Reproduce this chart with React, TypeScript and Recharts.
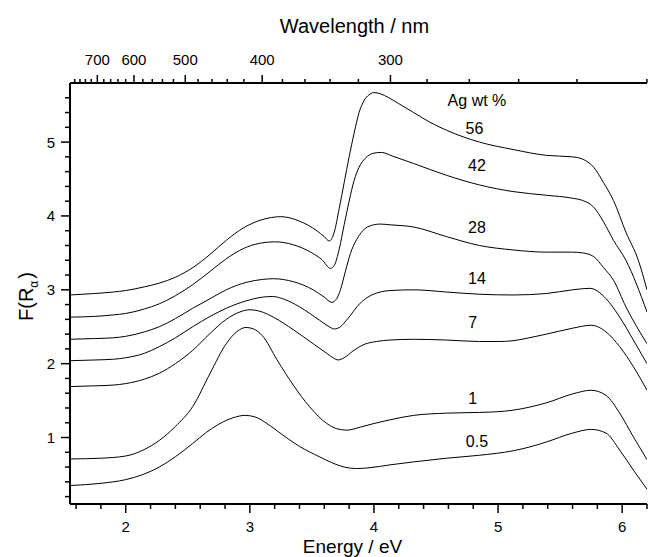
import { LineChart, Line, XAxis, YAxis, ReferenceDot } from 'recharts';

// Ejes: energía (abajo), longitud de onda (arriba), F(R) (izquierda)
const energyTicks = [1.6, 1.8, 2, 2.2, 2.4, 2.6, 2.8, 3, 3.2, 3.4, 3.6, 3.8, 4, 4.2, 4.4, 4.6, 4.8, 5, 5.2, 5.4, 5.6, 5.8, 6, 6.2];
const energyLabels = [2, 3, 4, 5, 6];
const fTicks = [0.2, 0.4, 0.6, 0.8, 1, 1.2, 1.4, 1.6, 1.8, 2, 2.2, 2.4, 2.6, 2.8, 3, 3.2, 3.4, 3.6, 3.8, 4, 4.2, 4.4, 4.6, 4.8, 5, 5.2, 5.4, 5.6];
const fLabels = [1, 2, 3, 4, 5];
const wavelengthTicks = [780, 760, 740, 720, 700, 680, 660, 640, 620, 600, 580, 560, 540, 520, 500, 480, 460, 440, 420, 400, 380, 360, 340, 320, 300, 280, 260, 240, 220, 200];
const wavelengthLabels = [700, 600, 500, 400, 300];

// Curvas [energía eV, F(R)] por contenido de Ag
const ag56 = [[1.55, 2.93], [1.75, 2.95], [1.9, 2.97], [2.0, 2.99], [2.15, 3.04], [2.27, 3.09], [2.4, 3.17], [2.54, 3.3], [2.68, 3.48], [2.81, 3.67], [2.95, 3.84], [3.1, 3.95], [3.25, 3.99], [3.4, 3.93], [3.54, 3.8], [3.6, 3.72], [3.64, 3.66], [3.68, 3.78], [3.72, 4.1], [3.76, 4.45], [3.8, 4.8], [3.84, 5.12], [3.88, 5.4], [3.92, 5.56], [3.96, 5.64], [4.0, 5.67], [4.05, 5.655], [4.12, 5.6], [4.2, 5.52], [4.32, 5.4], [4.45, 5.27], [4.585, 5.16], [4.85, 5.0], [5.12, 4.9], [5.39, 4.82], [5.6, 4.8], [5.68, 4.77], [5.77, 4.66], [5.85, 4.45], [5.93, 4.21], [6.03, 3.78], [6.13, 3.4], [6.2, 3.0]];
const ag42 = [[1.55, 2.63], [1.75, 2.64], [1.9, 2.66], [2.0, 2.68], [2.15, 2.74], [2.27, 2.81], [2.4, 2.92], [2.54, 3.07], [2.68, 3.25], [2.81, 3.42], [2.95, 3.56], [3.08, 3.63], [3.2, 3.65], [3.35, 3.61], [3.5, 3.5], [3.58, 3.41], [3.65, 3.29], [3.68, 3.33], [3.72, 3.55], [3.76, 3.88], [3.8, 4.2], [3.84, 4.48], [3.88, 4.66], [3.93, 4.78], [4.0, 4.85], [4.06, 4.86], [4.15, 4.81], [4.32, 4.71], [4.585, 4.55], [4.85, 4.42], [5.12, 4.33], [5.39, 4.28], [5.6, 4.24], [5.68, 4.21], [5.77, 4.12], [5.85, 3.92], [5.93, 3.67], [6.03, 3.4], [6.2, 2.7]];
const ag28 = [[1.55, 2.33], [1.75, 2.34], [1.9, 2.35], [2.0, 2.37], [2.15, 2.43], [2.27, 2.5], [2.4, 2.61], [2.54, 2.75], [2.68, 2.88], [2.81, 3.0], [2.97, 3.1], [3.1, 3.14], [3.19, 3.15], [3.35, 3.11], [3.51, 3.0], [3.6, 2.9], [3.66, 2.83], [3.7, 2.88], [3.73, 3.0], [3.77, 3.25], [3.81, 3.49], [3.86, 3.68], [3.91, 3.8], [3.96, 3.86], [4.05, 3.89], [4.13, 3.88], [4.32, 3.85], [4.585, 3.72], [4.85, 3.6], [5.12, 3.54], [5.39, 3.51], [5.6, 3.51], [5.68, 3.5], [5.77, 3.45], [5.85, 3.3], [5.93, 3.13], [6.03, 2.77], [6.2, 2.27]];
const ag14 = [[1.55, 2.04], [1.75, 2.05], [1.9, 2.06], [2.0, 2.08], [2.15, 2.14], [2.27, 2.23], [2.4, 2.35], [2.54, 2.5], [2.68, 2.64], [2.81, 2.75], [2.97, 2.85], [3.1, 2.9], [3.18, 2.91], [3.28, 2.87], [3.4, 2.77], [3.56, 2.59], [3.63, 2.51], [3.68, 2.47], [3.73, 2.5], [3.78, 2.59], [3.89, 2.82], [3.96, 2.91], [4.05, 2.97], [4.13, 2.99], [4.32, 3.0], [4.585, 2.97], [4.85, 2.94], [5.12, 2.93], [5.39, 2.95], [5.6, 3.0], [5.74, 3.02], [5.87, 2.88], [5.98, 2.63], [6.09, 2.32], [6.2, 2.0]];
const ag7 = [[1.55, 1.69], [1.75, 1.7], [1.9, 1.71], [2.0, 1.73], [2.15, 1.79], [2.27, 1.87], [2.4, 2.0], [2.54, 2.18], [2.68, 2.41], [2.81, 2.6], [2.92, 2.7], [3.0, 2.73], [3.08, 2.71], [3.2, 2.62], [3.35, 2.46], [3.51, 2.27], [3.62, 2.14], [3.68, 2.07], [3.71, 2.05], [3.76, 2.08], [3.83, 2.17], [3.92, 2.26], [4.02, 2.3], [4.13, 2.32], [4.32, 2.33], [4.585, 2.32], [4.85, 2.3], [5.0, 2.3], [5.12, 2.31], [5.25, 2.35], [5.39, 2.4], [5.6, 2.48], [5.75, 2.52], [5.87, 2.43], [5.98, 2.23], [6.09, 1.96], [6.2, 1.64]];
const ag1 = [[1.55, 0.71], [1.8, 0.72], [2.0, 0.75], [2.14, 0.83], [2.27, 0.96], [2.4, 1.15], [2.54, 1.42], [2.68, 1.87], [2.81, 2.27], [2.9, 2.44], [2.97, 2.49], [3.03, 2.47], [3.1, 2.38], [3.22, 2.05], [3.35, 1.71], [3.48, 1.42], [3.62, 1.19], [3.7, 1.12], [3.78, 1.1], [3.89, 1.14], [4.0, 1.19], [4.13, 1.24], [4.32, 1.3], [4.585, 1.33], [4.85, 1.34], [5.0, 1.35], [5.12, 1.37], [5.25, 1.41], [5.39, 1.47], [5.6, 1.59], [5.75, 1.64], [5.87, 1.57], [5.98, 1.33], [6.09, 1.01], [6.2, 0.7]];
const ag05 = [[1.55, 0.35], [1.8, 0.38], [2.0, 0.43], [2.14, 0.5], [2.27, 0.6], [2.4, 0.74], [2.54, 0.92], [2.65, 1.07], [2.75, 1.18], [2.87, 1.27], [2.96, 1.3], [3.04, 1.28], [3.12, 1.21], [3.22, 1.09], [3.4, 0.88], [3.56, 0.74], [3.66, 0.66], [3.76, 0.6], [3.86, 0.58], [3.96, 0.59], [4.13, 0.63], [4.32, 0.67], [4.585, 0.72], [4.85, 0.76], [5.12, 0.82], [5.25, 0.87], [5.39, 0.94], [5.6, 1.06], [5.75, 1.11], [5.87, 1.06], [5.98, 0.83], [6.09, 0.56], [6.2, 0.3]];

const seriesNames = ['56', '42', '28', '14', '7', '1', '0.5'];
const seriesData = [ag56, ag42, ag28, ag14, ag7, ag1, ag05];

// Etiquetas dentro del gráfico (coordenadas de datos)
const legendTitle = 'Ag wt %';
const labelSpots = [[4.83, 5.56], [4.81, 5.18], [4.83, 4.68], [4.83, 3.84], [4.83, 3.15], [4.795, 2.56], [4.795, 1.53], [4.83, 0.95]];

const HC = 1239.84; // eV·nm
const X_DOMAIN = [1.551, 6.2];
const Y_DOMAIN = [0.1, 5.8];
const FONT = '"Liberation Sans", Arial, Helvetica, sans-serif';

const near = (a: number, b: number) => Math.abs(a - b) < 1e-6;

function makeTick(side: 'bottom' | 'top' | 'left', isMajor: (v: number) => boolean, fmt: (v: number) => string) {
  return (props: any) => {
    const { x, y, payload } = props;
    const v = payload.value;
    const major = isMajor(v);
    const stroke = { stroke: '#000', strokeWidth: 1.5 };
    const txt = { fontFamily: FONT, fontSize: 15, fill: '#000' };
    if (side === 'bottom') {
      return (
        <g>
          <line x1={x} y1={y} x2={x} y2={y + (major ? 9 : 5)} {...stroke} />
          {major && <text x={x} y={y + 28} textAnchor="middle" {...txt}>{fmt(v)}</text>}
        </g>
      );
    }
    if (side === 'top') {
      return (
        <g>
          <line x1={x} y1={y} x2={x} y2={y - (major ? 8 : 4)} {...stroke} />
          {major && <text x={x} y={y - 18} textAnchor="middle" {...txt}>{fmt(v)}</text>}
        </g>
      );
    }
    return (
      <g>
        <line x1={x} y1={y} x2={x - (major ? 9 : 5)} y2={y} {...stroke} />
        {major && <text x={x - 15} y={y + 5.5} textAnchor="end" {...txt}>{fmt(v)}</text>}
      </g>
    );
  };
}

const bottomTick = makeTick('bottom', v => energyLabels.some(l => near(l, v)), v => String(v));
const leftTick = makeTick('left', v => fLabels.some(l => near(l, v)), v => String(v));
const topTick = makeTick(
  'top',
  v => wavelengthLabels.some(l => Math.abs(HC / v - l) < 0.5),
  v => String(Math.round(HC / v))
);

export default function App() {
  const rows = seriesData.map(s => s.map(([e, f]) => ({ e, f })));

  return (
    <div style={{ position: 'absolute', left: 0, top: 0, width: 648, height: 557, background: '#fff' }}>
      <LineChart width={648} height={557} margin={{ top: 0, right: 1, bottom: 0, left: 0 }}>
        <XAxis
          xAxisId="bottom"
          dataKey="e"
          type="number"
          domain={X_DOMAIN}
          allowDataOverflow
          ticks={energyTicks}
          interval={0}
          height={53}
          tickSize={0}
          tickMargin={0}
          tickLine={false}
          tick={bottomTick}
          axisLine={{ stroke: '#000', strokeWidth: 2 }}
          label={{
            content: (p: any) => (
              <text x={p.viewBox.x + p.viewBox.width / 2 - 6} y={p.viewBox.y + 49} textAnchor="middle" fontFamily={FONT} fontSize={19} fill="#000">
                Energy / eV
              </text>
            ),
          }}
        />
        <XAxis
          xAxisId="top"
          orientation="top"
          dataKey="e"
          type="number"
          domain={X_DOMAIN}
          allowDataOverflow
          ticks={wavelengthTicks.map(l => HC / l)}
          interval={0}
          height={83}
          tickSize={0}
          tickMargin={0}
          tickLine={false}
          tick={topTick}
          axisLine={{ stroke: '#000', strokeWidth: 2 }}
          label={{
            content: (p: any) => (
              <text x={p.viewBox.x + p.viewBox.width / 2 - 4} y={33} textAnchor="middle" fontFamily={FONT} fontSize={20} fill="#000">
                Wavelength / nm
              </text>
            ),
          }}
        />
        <YAxis
          yAxisId="left"
          type="number"
          domain={Y_DOMAIN}
          allowDataOverflow
          ticks={fTicks}
          interval={0}
          width={70}
          tickSize={0}
          tickMargin={0}
          tickLine={false}
          tick={leftTick}
          axisLine={{ stroke: '#000', strokeWidth: 2 }}
          label={{
            content: (p: any) => {
              const cy = p.viewBox.y + p.viewBox.height / 2 + 3;
              return (
                <text x={33} y={cy} transform={`rotate(-90, 33, ${cy})`} textAnchor="middle" fontFamily={FONT} fontSize={20} fill="#000">
                  F(R
                  <tspan fontSize={12} dy={5}>α</tspan>
                  <tspan dy={-5} dx={2}>)</tspan>
                </text>
              );
            },
          }}
        />
        <YAxis
          yAxisId="right"
          orientation="right"
          type="number"
          domain={Y_DOMAIN}
          allowDataOverflow
          width={0}
          tick={false}
          tickLine={false}
          axisLine={{ stroke: '#000', strokeWidth: 2 }}
        />
        {rows.map((data, i) => (
          <Line
            key={seriesNames[i]}
            name={seriesNames[i]}
            data={data}
            dataKey="f"
            xAxisId="bottom"
            yAxisId="left"
            type="monotone"
            stroke="#000"
            strokeWidth={1}
            dot={false}
            activeDot={false}
            isAnimationActive={false}
          />
        ))}
        {labelSpots.map(([e, f], i) => (
          <ReferenceDot
            key={`lbl-${i}`}
            x={e}
            y={f}
            xAxisId="bottom"
            yAxisId="left"
            r={1}
            fill="none"
            stroke="none"
            label={{
              value: i === 0 ? legendTitle : seriesNames[i - 1],
              position: 'center',
              fontFamily: FONT,
              fontSize: 16,
              fill: '#000',
            }}
          />
        ))}
      </LineChart>
    </div>
  );
}
